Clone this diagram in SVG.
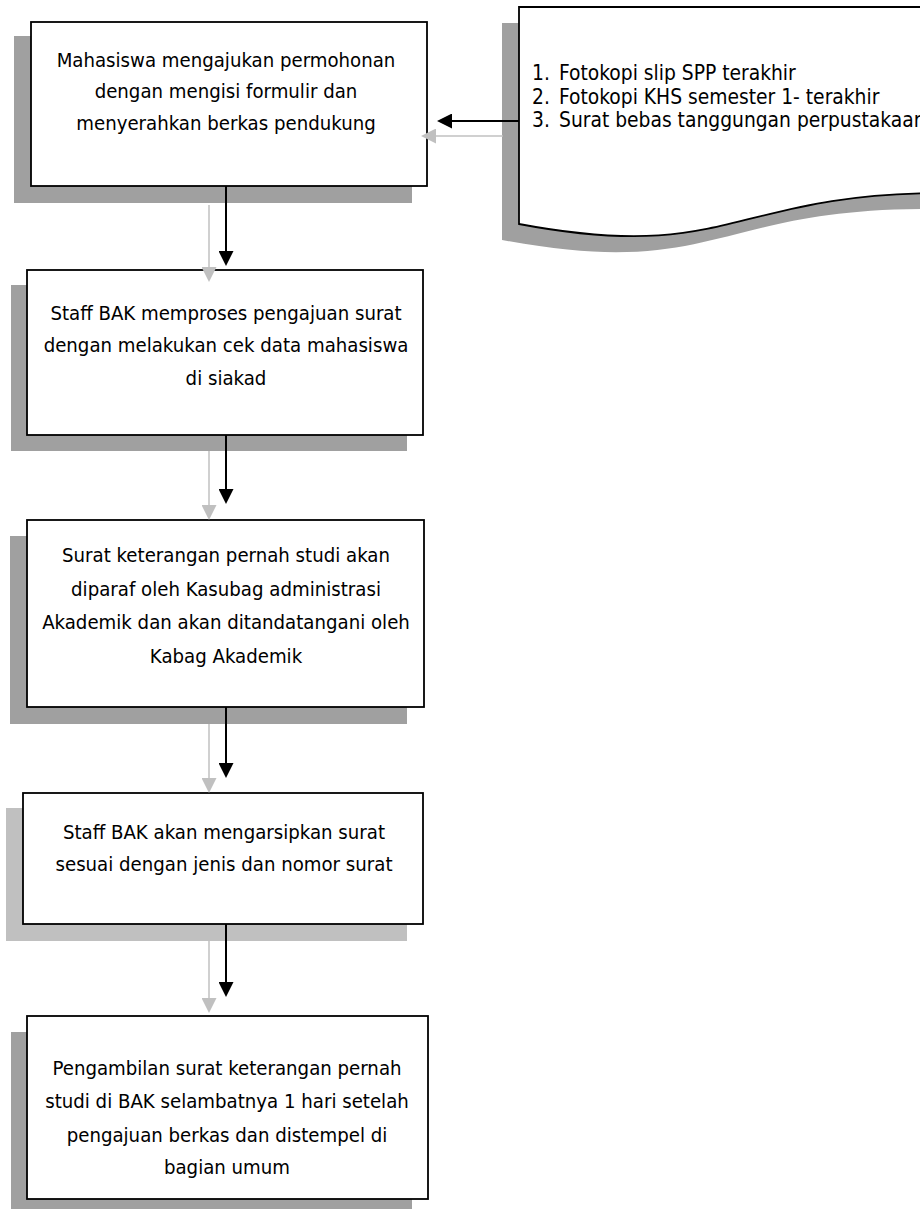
<svg xmlns="http://www.w3.org/2000/svg" width="920" height="1209" viewBox="0 0 920 1209">
<style>
.box{fill:#fff;stroke:#000;stroke-width:1.8}
.sh{fill:#a0a0a0}
.sh2{fill:#c0c0c0}
.t{font-family:"DejaVu Sans Condensed","DejaVu Sans",sans-serif;font-stretch:condensed;font-size:20.2px;fill:#000;text-anchor:middle}
.lt{font-family:"DejaVu Sans Condensed","DejaVu Sans",sans-serif;font-stretch:condensed;font-size:20.8px;fill:#000}
.ab{stroke:#000;stroke-width:2;fill:none;marker-end:url(#hb)}
.ag{stroke:#c0c0c0;stroke-width:1.5;fill:none;marker-end:url(#hg)}
</style>
<defs>
<marker id="hb" markerUnits="userSpaceOnUse" markerWidth="15" markerHeight="15" refX="5" refY="7.5" orient="auto"><path d="M0,0 L15,7.5 L0,15 Z" fill="#000"/></marker>
<marker id="hg" markerUnits="userSpaceOnUse" markerWidth="15" markerHeight="15" refX="5" refY="7.5" orient="auto"><path d="M0,0 L15,7.5 L0,15 Z" fill="#c0c0c0"/></marker>
</defs>
<rect width="920" height="1209" fill="#fff"/>
<g id="doc">
<path class="sh" d="M502,23 H927 V209 C714.5,209 714.5,280 502,240 Z"/>
<path class="box" d="M519,7 H944 V193 C731.5,193 731.5,264 519,224 Z"/>
<text class="lt" y="80"><tspan x="532">1.</tspan><tspan x="559">Fotokopi slip SPP terakhir</tspan></text>
<text class="lt" y="104"><tspan x="532">2.</tspan><tspan x="559">Fotokopi KHS semester 1- terakhir</tspan></text>
<text class="lt" y="127"><tspan x="532">3.</tspan><tspan x="559">Surat bebas tanggungan perpustakaan</tspan></text>
</g>
<g id="n1">
<rect class="sh" x="14" y="36" width="398" height="167"/>
<rect class="box" x="31" y="22" width="396" height="164"/>
<text class="t" x="226" y="67">Mahasiswa mengajukan permohonan</text>
<text class="t" x="226" y="98">dengan mengisi formulir dan</text>
<text class="t" x="226" y="130">menyerahkan berkas pendukung</text>
</g>
<g id="n2">
<rect class="sh" x="11" y="285" width="396" height="166"/>
<rect class="box" x="27" y="270" width="396" height="165"/>
<text class="t" x="226" y="320">Staff BAK memproses pengajuan surat</text>
<text class="t" x="226" y="352">dengan melakukan cek data mahasiswa</text>
<text class="t" x="226" y="385">di siakad</text>
</g>
<g id="n3">
<rect class="sh" x="10" y="536" width="397" height="188"/>
<rect class="box" x="27" y="520" width="397" height="187"/>
<text class="t" x="226" y="562">Surat keterangan pernah studi akan</text>
<text class="t" x="226" y="596">diparaf oleh Kasubag administrasi</text>
<text class="t" x="226" y="629">Akademik dan akan ditandatangani oleh</text>
<text class="t" x="226" y="663">Kabag Akademik</text>
</g>
<g id="n4">
<rect class="sh2" x="6" y="808" width="401" height="133"/>
<rect class="box" x="23" y="793" width="400" height="131"/>
<text class="t" x="224" y="839">Staff BAK akan mengarsipkan surat</text>
<text class="t" x="224" y="871">sesuai dengan jenis dan nomor surat</text>
</g>
<g id="n5">
<rect class="sh" x="11" y="1032" width="401" height="177"/>
<rect class="box" x="27" y="1016" width="401" height="183"/>
<text class="t" x="227" y="1075">Pengambilan surat keterangan pernah</text>
<text class="t" x="227" y="1108">studi di BAK selambatnya 1 hari setelah</text>
<text class="t" x="227" y="1142">pengajuan berkas dan distempel di</text>
<text class="t" x="227" y="1174">bagian umum</text>
</g>
<g id="connectors">
<line class="ab" x1="519" y1="121" x2="447" y2="121"/>
<line class="ag" x1="503" y1="136" x2="431" y2="136"/>
<line class="ab" x1="226" y1="186" x2="226" y2="256"/>
<line class="ag" x1="209" y1="205" x2="209" y2="272"/>
<line class="ab" x1="226" y1="435" x2="226" y2="494"/>
<line class="ag" x1="209" y1="451" x2="209" y2="510"/>
<line class="ab" x1="226" y1="707" x2="226" y2="768"/>
<line class="ag" x1="209" y1="724" x2="209" y2="783"/>
<line class="ab" x1="226" y1="924" x2="226" y2="987"/>
<line class="ag" x1="209" y1="941" x2="209" y2="1003"/>
</g>
</svg>
